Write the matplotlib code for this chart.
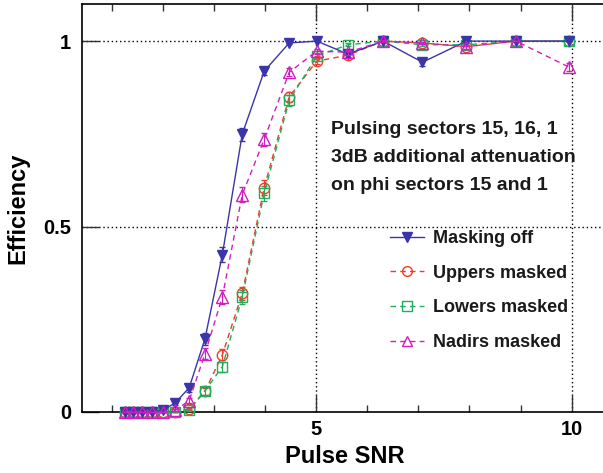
import matplotlib.pyplot as plt
from matplotlib.lines import Line2D

plt.rcParams['font.family'] = ['Liberation Sans', 'DejaVu Sans']
plt.rcParams['font.weight'] = 'bold'

# pulse SNR points (1 dB steps in amplitude)
snr = [1.26, 1.41, 1.58, 1.78, 2.00, 2.24, 2.51, 2.82, 3.16, 3.55,
       3.98, 4.47, 5.01, 5.62, 6.31, 7.08, 7.94, 8.91, 9.95]

eff_off = [0, 0, 0, 0, 0.005, 0.025, 0.065, 0.197, 0.424, 0.749,
           0.919, 0.995, 1.0, 0.965, 1.0, 0.943, 1.0, 1.0, 1.0]
err_off = [0, 0, 0, 0, 0.003, 0.006, 0.01, 0.016, 0.02, 0.018,
           0.011, 0.003, 0.001, 0.008, 0.001, 0.01, 0.001, 0.001, 0.001]

eff_up = [0, 0, 0, 0, 0, 0, 0.008, 0.056, 0.154, 0.32,
          0.605, 0.85, 0.946, 0.962, 1.0, 0.995, 0.985, 1.0, 1.0]
err_up = [0, 0, 0, 0, 0, 0, 0.004, 0.01, 0.015, 0.018,
          0.02, 0.014, 0.009, 0.008, 0.002, 0.003, 0.005, 0.001, 0.001]

eff_low = [0, 0, 0, 0, 0, 0, 0.005, 0.057, 0.122, 0.31,
           0.59, 0.84, 0.96, 0.99, 1.0, 0.99, 0.99, 1.0, 1.0]
err_low = [0, 0, 0, 0, 0, 0, 0.003, 0.01, 0.014, 0.018,
           0.02, 0.014, 0.008, 0.004, 0.002, 0.004, 0.004, 0.001, 0.001]

eff_nad = [0, 0, 0, 0, 0, 0.005, 0.03, 0.157, 0.31, 0.586,
           0.735, 0.916, 0.973, 0.97, 1.0, 0.995, 0.985, 1.0, 0.93]
err_nad = [0, 0, 0, 0, 0, 0.003, 0.007, 0.015, 0.018, 0.02,
           0.017, 0.011, 0.007, 0.007, 0.002, 0.003, 0.005, 0.001, 0.01]

labels = ['Masking off', 'Uppers masked', 'Lowers masked', 'Nadirs masked']
note = 'Pulsing sectors 15, 16, 1\n3dB additional attenuation\non phi sectors 15 and 1'

fig = plt.figure(figsize=(6.03, 4.73), dpi=100)
ax = fig.add_axes([0.136, 0.129, 0.87, 0.8625])

dash = (0, (4, 3))
styles = [
    dict(color='#3a35a8', ls='-', marker='v', ms=7, mfc='#3a35a8', zorder=5),
    dict(color='#f03c28', ls=dash, marker='o', ms=7.5, mfc='none', zorder=4),
    dict(color='#1fae5a', ls=dash, marker='s', ms=7.5, mfc='none', zorder=4),
    dict(color='#d21ec0', ls=dash, marker='^', ms=8, mfc='none', zorder=6),
]
series = [(eff_off, err_off), (eff_up, err_up), (eff_low, err_low), (eff_nad, err_nad)]

handles = []
for (y, e), st, lab in zip(series, styles, labels):
    ax.errorbar(snr, y, yerr=e, color=st['color'], ls=st['ls'], lw=1,
                marker=st['marker'], ms=st['ms'], mfc=st['mfc'], mec=st['color'],
                mew=1, capsize=2.5, elinewidth=0.8, clip_on=False, zorder=st['zorder'])
    handles.append(Line2D([], [], color=st['color'], ls=st['ls'], lw=1,
                          marker=st['marker'], ms=st['ms'] - 0.5, mfc=st['mfc'],
                          mec=st['color'], mew=1, label=lab))

ax.set_xlim(0.412, 10.686)
ax.set_ylim(0, 1.1)

ax.set_xticks([5, 10])
ax.set_xticks([1, 2, 3, 4, 6, 7, 8, 9], minor=True)
ax.set_yticks([0, 0.5, 1])
ax.set_yticklabels(['0', '0.5', '1'])
ax.tick_params(which='both', direction='in', top=True, labelsize=14.5,
               width=1, color='#333333')
ax.tick_params(which='major', length=12, pad=8)
ax.tick_params(which='minor', length=5)
ax.tick_params(axis='x', which='major', pad=6)

for v in [5, 10]:
    ax.axvline(v, color='black', lw=1, ls=(0, (1, 2)), zorder=1)
for v in [0.5, 1]:
    ax.axhline(v, color='black', lw=1, ls=(0, (1, 2)), zorder=1)

for s in ['left', 'bottom', 'top']:
    ax.spines[s].set_linewidth(1.2)
ax.spines['right'].set_visible(False)

ax.set_xlabel('Pulse SNR', fontsize=17, fontweight='bold', labelpad=4)
ax.set_ylabel('Efficiency', fontsize=17, fontweight='bold', labelpad=10)

fig.text(0.549, 0.744, note, fontsize=14, fontweight='bold', color='#1a1a1a',
         va='top', ha='left', linespacing=1.85)

leg = ax.legend(handles=handles, loc='upper left', bbox_to_anchor=(0.647, 0.514),
                bbox_transform=fig.transFigure, frameon=False,
                fontsize=13, handlelength=1.9, handletextpad=0.5,
                labelspacing=0.98, borderpad=0, borderaxespad=0)
for t in leg.get_texts():
    t.set_fontweight('bold')
    t.set_color('#1a1a1a')

fig.savefig('out.png', dpi=100)
